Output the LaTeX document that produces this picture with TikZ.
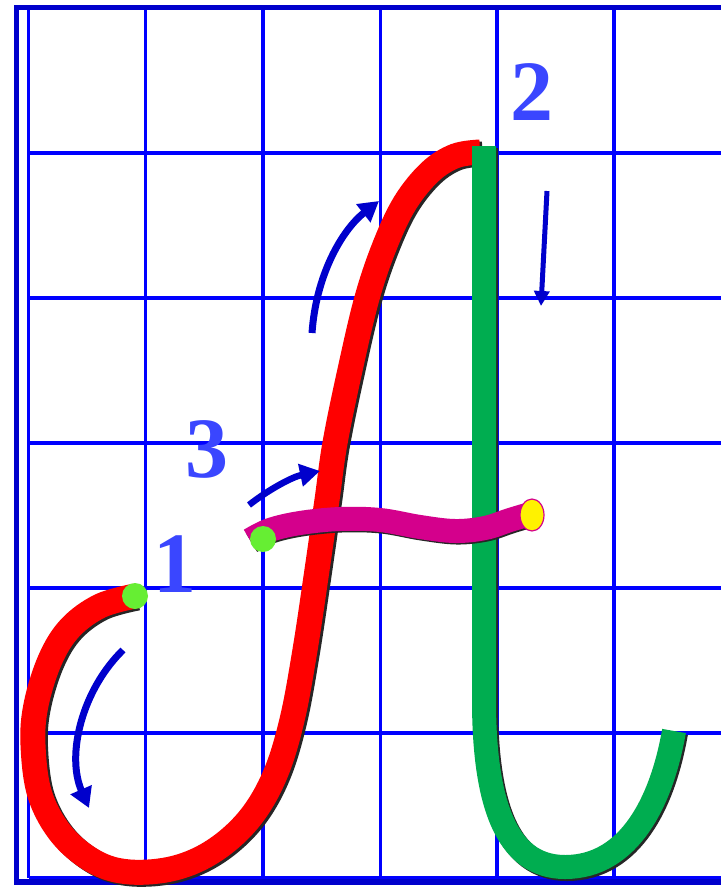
\documentclass[tikz,border=0pt]{standalone}
\usepackage{fontspec}
\setmainfont{Liberation Serif}
\usetikzlibrary{arrows.meta}
\definecolor{gridblue}{RGB}{0,0,255}
\definecolor{frameblue}{RGB}{0,0,204}
\definecolor{arrowblue}{RGB}{0,0,204}
\definecolor{strokered}{RGB}{255,0,0}
\definecolor{strokegreen}{RGB}{0,173,80}
\definecolor{strokemag}{RGB}{212,0,140}
\definecolor{dotgreen}{RGB}{102,238,51}
\definecolor{numblue}{RGB}{58,70,255}
\tikzset{
  gridline/.style={draw=gridblue, line width=3.3pt},
  framebox/.style={draw=frameblue, line width=5.5pt},
  redstroke/.style={draw=strokered, line width=25pt, line cap=butt},
  greenstroke/.style={draw=strokegreen, line width=24pt, line cap=butt},
  magstroke/.style={draw=strokemag, line width=24pt, line cap=butt},
  shadowstroke/.style={draw=black!85, line width=24pt, line cap=butt},
  startdot/.style={fill=dotgreen},
  blueturn/.style={draw=arrowblue, line width=7pt, -{Triangle[length=20pt,width=22pt]}},
  bluedown/.style={draw=arrowblue, line width=5pt, -{Triangle[length=15pt,width=15pt]}},
  numlabel/.style={text=numblue, font=\bfseries\fontsize{86}{86}\selectfont, anchor=base, inner sep=0pt}
}
\begin{document}
\begin{tikzpicture}[x=1pt,y=-1pt]
\useasboundingbox (0,0) rectangle (720,891);
\fill[white] (0,0) rectangle (720,891);
% grid
\foreach \gx in {28.5,145.7,263,380.2,497,614}
  \draw[gridline] (\gx,8) -- (\gx,878);
\foreach \gy in {8,153,298,443,588,733,878}
  \draw[gridline] (28.5,\gy) -- (725,\gy);
% frame
\draw[framebox] (725,7.5) -- (16.5,7.5) -- (16.5,882) -- (725,882);

% red stroke
\def\redpath{plot[smooth, tension=0.6] coordinates {(135,596) (100,606) (70,628) (50,660) (36,705) (33,745) (40,795) (62,835) (95,862) (130,872) (175,868) (215,850) (250,818) (275,775) (292,720) (305,650) (317,570) (327,500) (335,443) (350,370) (367,298) (385,245) (405,203) (430,172) (455,156) (480,152)}}
\draw[shadowstroke, line width=25pt, shift={(2.5,2)}] \redpath;
\draw[redstroke] \redpath;

% green stroke
\def\greenpath{(484,146) -- (484,700) .. controls (484,800) and (505,867) .. (565,867) .. controls (630,867) and (662,800) .. (674,731)}
\draw[shadowstroke, shift={(2,2)}] \greenpath;
\draw[greenstroke] \greenpath;

% magenta stroke
\def\magpath{plot[smooth, tension=0.6] coordinates {(250,540) (270,530) (300,523) (340,519) (380,520) (420,527) (455,531) (485,528) (510,520) (530,514)}}
\draw[shadowstroke, line width=22pt, shift={(1.5,2.5)}] \magpath;
\draw[magstroke] \magpath;

% dots
\fill[startdot] (135,596) circle[radius=13pt];
\fill[startdot] (263,539) circle[radius=13pt];
\draw[fill=yellow, draw=strokemag, line width=1.2pt] (532,515) ellipse[x radius=12pt, y radius=16pt];

% direction arrows
\coordinate (a1s) at (123,650);
\coordinate (a1e) at (89,808);
\draw[blueturn] (a1s) .. controls (82,690) and (66,755) .. (a1e);
\coordinate (a2s) at (312,333);
\coordinate (a2e) at (379,201);
\draw[blueturn] (a2s) .. controls (316,275) and (342,230) .. (a2e);
\coordinate (a3s) at (249,505);
\coordinate (a3e) at (320,471);
\draw[blueturn, line width=6.5pt] (a3s) .. controls (268,490) and (292,477) .. (a3e);
\coordinate (a4s) at (547,191);
\coordinate (a4e) at (541,306);
\draw[bluedown] (a4s) -- (a4e);

% number labels
\node[numlabel] (n1) at (175,592) {1};
\node[numlabel] (n2) at (532,120) {2};
\node[numlabel] (n3) at (207,477) {3};
\end{tikzpicture}
\end{document}
